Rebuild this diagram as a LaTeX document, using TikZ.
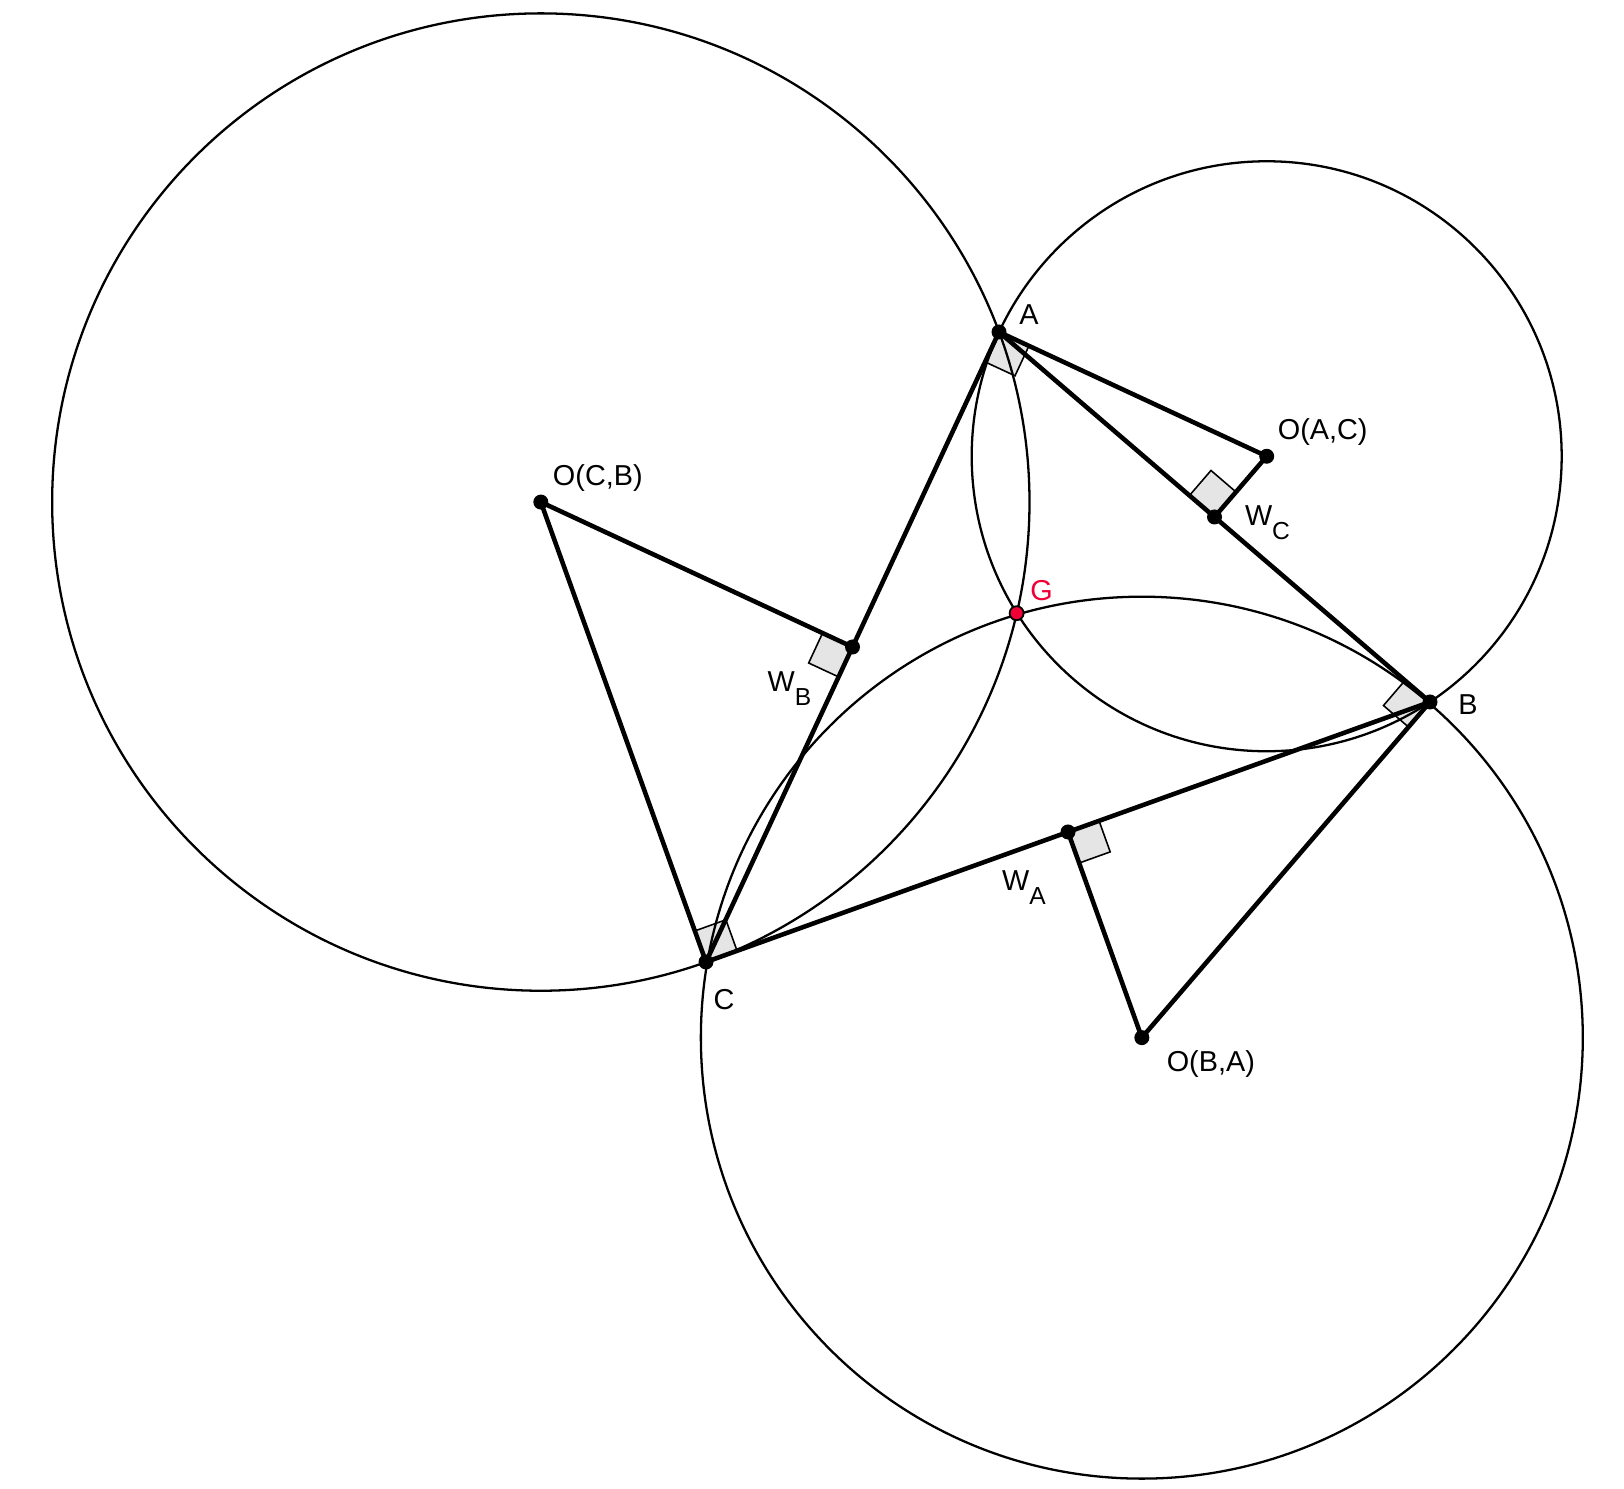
\documentclass[tikz,border=0pt]{standalone}
\usepackage{fontspec}
\setmainfont{Liberation Sans}
\usepackage{tikz}
\usetikzlibrary{calc, through}
\usetikzlibrary{positioning}

\definecolor{brocardred}{RGB}{240,0,55}
\definecolor{markgray}{RGB}{229,229,229}

\tikzset{
	circ/.style={draw=black, line width=0.65pt},
	seg/.style={line width=1.3pt, line cap=round},
	markbox/.style={draw=black, fill=markgray, line width=0.45pt},
	dot/.style={fill=black},
	lbl/.style={font=\fontsize{8.2}{10}\selectfont, inner sep=0pt}
}

\newcommand{\marksize}{0.33cm}
\newcommand{\perpmark}[3]{%
	\path ($(#1)!\marksize!(#2)$) coordinate (m1)
	      ($(#1)!\marksize!(#3)$) coordinate (m2);
	\draw[markbox] (#1) -- (m1) -- ($(m1)+(m2)-(#1)$) -- (m2) -- cycle;
}
\newcommand{\lsub}[1]{\raisebox{-4pt}{\fontsize{7}{8}\selectfont #1}}

\begin{document}
\begin{tikzpicture}
	\useasboundingbox (0,0) rectangle (16.24,14.89);

	% triangle and midpoints of its sides
	\coordinate (A) at (9.99,11.57);
	\coordinate (B) at (14.30,7.87);
	\coordinate (C) at (7.06,5.27);
	\coordinate (WA) at ($(B)!0.5!(C)$);
	\coordinate (WB) at ($(A)!0.5!(C)$);
	\coordinate (WC) at ($(A)!0.5!(B)$);

	% centres: normal to the tangent side meets the perpendicular bisector
	\coordinate (nC) at ($(C)!1!90:(B)$);
	\coordinate (nWB) at ($(WB)!1!90:(A)$);
	\coordinate (OCB) at (intersection of C--nC and WB--nWB);
	\coordinate (nA) at ($(A)!1!90:(C)$);
	\coordinate (nWC) at ($(WC)!1!90:(B)$);
	\coordinate (OAC) at (intersection of A--nA and WC--nWC);
	\coordinate (nB) at ($(B)!1!90:(A)$);
	\coordinate (nWA) at ($(WA)!1!90:(C)$);
	\coordinate (OBA) at (intersection of B--nB and WA--nWA);

	% second common point of the circles
	\coordinate (g0) at ($(OCB)!(A)!(OAC)$);
	\coordinate (G) at ($(A)!2!(g0)$);

	\perpmark{A}{OAC}{C}
	\perpmark{B}{OBA}{A}
	\perpmark{C}{OCB}{B}
	\perpmark{WA}{B}{OBA}
	\perpmark{WB}{OCB}{C}
	\perpmark{WC}{OAC}{A}

	\node[circ] (kCB) at (OCB) [circle through=(C)] {};
	\node[circ] (kAC) at (OAC) [circle through=(A)] {};
	\node[circ] (kBA) at (OBA) [circle through=(B)] {};

	\draw[seg] (A) -- (B) -- (C) -- cycle;
	\draw[seg] (C) -- (OCB) -- (WB);
	\draw[seg] (A) -- (OAC) -- (WC);
	\draw[seg] (B) -- (OBA) -- (WA);

	\foreach \p in {A,B,C,WA,WB,WC,OCB,OAC,OBA}
		\fill[dot] (\p) circle (0.075);
	\filldraw[fill=brocardred, draw=black, line width=0.5pt] (G) circle (0.07);

	\begin{scope}[every node/.style={lbl}]
		\node (lA) at ($(A)+(0.30,0.17)$) {A};
		\node (lB) at ($(B)+(0.38,-0.03)$) {B};
		\node (lC) at ($(C)+(0.18,-0.38)$) {C};
		\node[text=brocardred] (lG) at ($(G)+(0.25,0.23)$) {G};
		\node (lOCB) at ($(OCB)+(0.57,0.24)$) {O(C,B)};
		\node (lOAC) at ($(OAC)+(0.56,0.24)$) {O(A,C)};
		\node (lOBA) at ($(OBA)+(0.69,-0.26)$) {O(B,A)};
		\node (lWA) at ($(WA)+(-0.44,-0.56)$) {W\lsub{A}};
		\node (lWB) at ($(WB)+(-0.63,-0.42)$) {W\lsub{B}};
		\node (lWC) at ($(WC)+(0.53,-0.06)$) {W\lsub{C}};
	\end{scope}
\end{tikzpicture}
\end{document}
